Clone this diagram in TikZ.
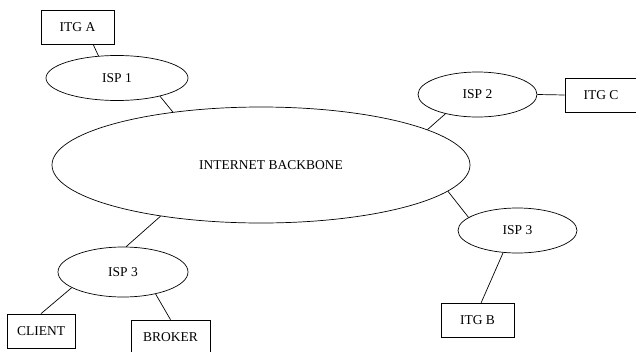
\documentclass[tikz,border=0pt]{standalone}
\usepackage{fontspec}
\setmainfont{Liberation Serif}
\usetikzlibrary{shapes.geometric}
\tikzset{
	isp/.style={draw,ellipse,inner sep=0pt,minimum width=119pt,minimum height=45pt},
	itg/.style={draw,rectangle,inner sep=0pt,minimum width=73pt,minimum height=34pt},
}
\begin{document}
\begin{tikzpicture}[x=1pt,y=-1pt,line width=.7pt,font=\fontsize{13.5}{15}\selectfont]
		\useasboundingbox (0,0) rectangle (636,351);
		\node[isp,minimum width=418pt,minimum height=116pt] (bb) at (261,165) {\hspace*{20pt}INTERNET BACKBONE};
		
		\node[itg] (itga) at (77.5,27) {ITG A};
		\node[isp,minimum width=142pt] (isp1) at (117,78) {ISP 1};
		\draw (itga.-48) -- (isp1.130);
		\draw (isp1.-23) -- (bb.149);
		
		\node[isp] (isp2) at (477.5,94.5) {ISP 2};
		\node[itg,minimum width=72pt] (itgc) at (601,95) {ITG C};
		\draw (isp2.east) -- (itgc.west);
		\draw (isp2.-149) -- (bb.12);
		
		\node[isp] (isp3r) at (517.5,230.5) {ISP 3};
		\node[itg] (itgb) at (477.5,320) {ITG B};
		\draw (bb.-8) -- (isp3r.165);
		\draw (isp3r.-123) -- (itgb.78);
		
		\node[isp,minimum width=130pt,minimum height=50pt] (isp3l) at (123,272) {ISP 3};
		\node[itg,minimum width=68pt] (client) at (41,331) {CLIENT};
		\node[itg,minimum width=79pt] (broker) at (170.5,337) {BROKER};
		\draw (bb.-153) -- (isp3l.83);
		\draw (isp3l.-163) -- (client.north);
		\draw (isp3l.-34) -- (broker.north);
		\end{tikzpicture}
\end{document}
